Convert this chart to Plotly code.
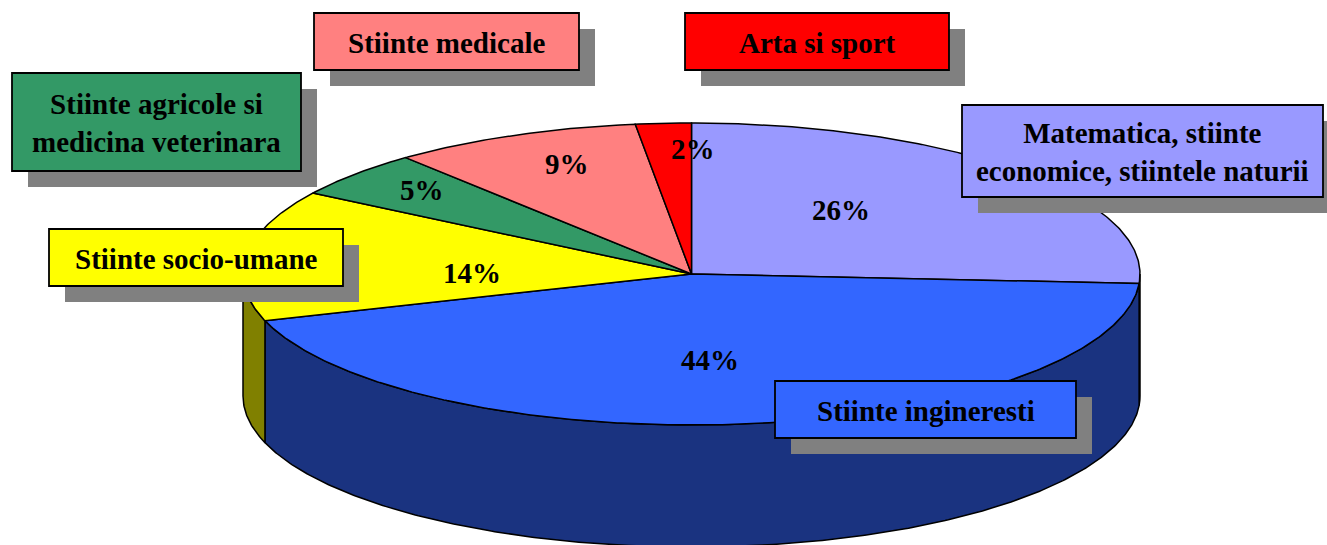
import numpy as np
import plotly.graph_objects as go

# ---------------- data ----------------
categories = [
    "Matematica, stiinte economice, stiintele naturii",
    "Stiinte ingineresti",
    "Stiinte socio-umane",
    "Stiinte agricole si medicina veterinara",
    "Stiinte medicale",
    "Arta si sport",
]
values = [26, 44, 14, 5, 9, 2]
legend_text = [
    "Matematica, stiinte<br>economice, stiintele naturii",
    "Stiinte ingineresti",
    "Stiinte socio-umane",
    "Stiinte agricole si<br>medicina veterinara",
    "Stiinte medicale",
    "Arta si sport",
]

# ---------------- styles ----------------
top_colors = ["#9999FF", "#3366FF", "#FFFF00", "#339966", "#FF8080", "#FF0000"]
side_colors = ["#4D4D80", "#1A3380", "#808000", "#1A4D33", "#804040", "#800000"]
shadow_color = "#808080"

W, H = 1327, 545
cx, cy, rx, ry, depth = 691.5, 274.0, 448.5, 151.0, 122.0

# label placement (radial fraction of the ellipse, angular nudge in degrees)
label_r = [0.54, 0.57, 0.49, 0.82, 0.78, 0.83]
label_dang = [-8.8, 3.0, -6.4, 1.4, 2.6, 3.9]

# callout boxes (x0, y0, x1, y1) in pixels
boxes = [
    (962, 105, 1323, 197),
    (775, 381, 1076, 438),
    (49, 229, 343, 286),
    (12, 73, 301, 171),
    (314, 13, 579, 70),
    (685, 13, 949, 70),
]
shadow_off = 16

FONT = "Liberation Serif, Times New Roman, serif"
FSIZE = 29

# ---------------- geometry ----------------
total = float(sum(values))
cum = np.concatenate([[0.0], np.cumsum(values)])
ang = 360.0 * cum / total  # clockwise from 12 o'clock


def arc(a1, a2, dz=0.0, n=None):
    if n is None:
        n = max(4, int(abs(a2 - a1) * 2) + 2)
    t = np.radians(np.linspace(a1, a2, n))
    return cx + rx * np.sin(t), cy - ry * np.cos(t) + dz


fig = go.Figure()

# side walls (front half only: 90..270 deg)
for i in range(len(values)):
    a1, a2 = max(ang[i], 90.0), min(ang[i + 1], 270.0)
    if a2 <= a1:
        continue
    xt, yt = arc(a1, a2)
    xb, yb = arc(a2, a1, dz=depth)
    xs = np.concatenate([xt, xb, xt[:1]])
    ys = np.concatenate([yt, yb, yt[:1]])
    fig.add_trace(go.Scatter(
        x=xs, y=ys, mode="lines", fill="toself",
        fillcolor=side_colors[i], line=dict(color="black", width=1.5),
        hoverinfo="skip", showlegend=False,
    ))

# top faces
for i in range(len(values)):
    xa, ya = arc(ang[i], ang[i + 1])
    xs = np.concatenate([[cx], xa, [cx]])
    ys = np.concatenate([[cy], ya, [cy]])
    fig.add_trace(go.Scatter(
        x=xs, y=ys, mode="lines", fill="toself",
        fillcolor=top_colors[i], line=dict(color="black", width=1.5),
        hoverinfo="skip", showlegend=False, name=categories[i],
    ))

annotations = []
# percentage labels
for i, v in enumerate(values):
    mid = (ang[i] + ang[i + 1]) / 2.0 + label_dang[i]
    t = np.radians(mid)
    lx = cx + label_r[i] * rx * np.sin(t)
    ly = cy - label_r[i] * ry * np.cos(t)
    annotations.append(dict(
        x=lx, y=ly, xref="x", yref="y", text=f"{round(100 * v / total)}%",
        showarrow=False, xanchor="center", yanchor="middle",
        font=dict(family=FONT, size=FSIZE, color="black", weight="bold"),
    ))

shapes = []
for i, (x0, y0, x1, y1) in enumerate(boxes):
    shapes.append(dict(
        type="rect", xref="x", yref="y",
        x0=x0 + shadow_off, y0=y0 + shadow_off, x1=x1 + shadow_off, y1=y1 + shadow_off,
        fillcolor=shadow_color, line=dict(width=0), layer="above",
    ))
    shapes.append(dict(
        type="rect", xref="x", yref="y", x0=x0, y0=y0, x1=x1, y1=y1,
        fillcolor=top_colors[i], line=dict(color="black", width=1.8), layer="above",
    ))
    annotations.append(dict(
        x=(x0 + x1) / 2.0, y=(y0 + y1) / 2.0 + 1, xref="x", yref="y",
        text=legend_text[i], showarrow=False, xanchor="center", yanchor="middle",
        align="center",
        font=dict(family=FONT, size=FSIZE, color="black", weight="bold"),
    ))

fig.update_layout(
    width=W, height=H, autosize=False,
    margin=dict(l=0, r=0, t=0, b=0, pad=0),
    paper_bgcolor="white", plot_bgcolor="white",
    xaxis=dict(range=[0, W], visible=False, fixedrange=True),
    yaxis=dict(range=[H, 0], visible=False, fixedrange=True),
    shapes=shapes, annotations=annotations, showlegend=False,
)

fig.write_html(
    "out.html",
    config={"displayModeBar": False},
    post_script="document.body.style.margin='0';document.body.style.overflow='hidden';",
)
